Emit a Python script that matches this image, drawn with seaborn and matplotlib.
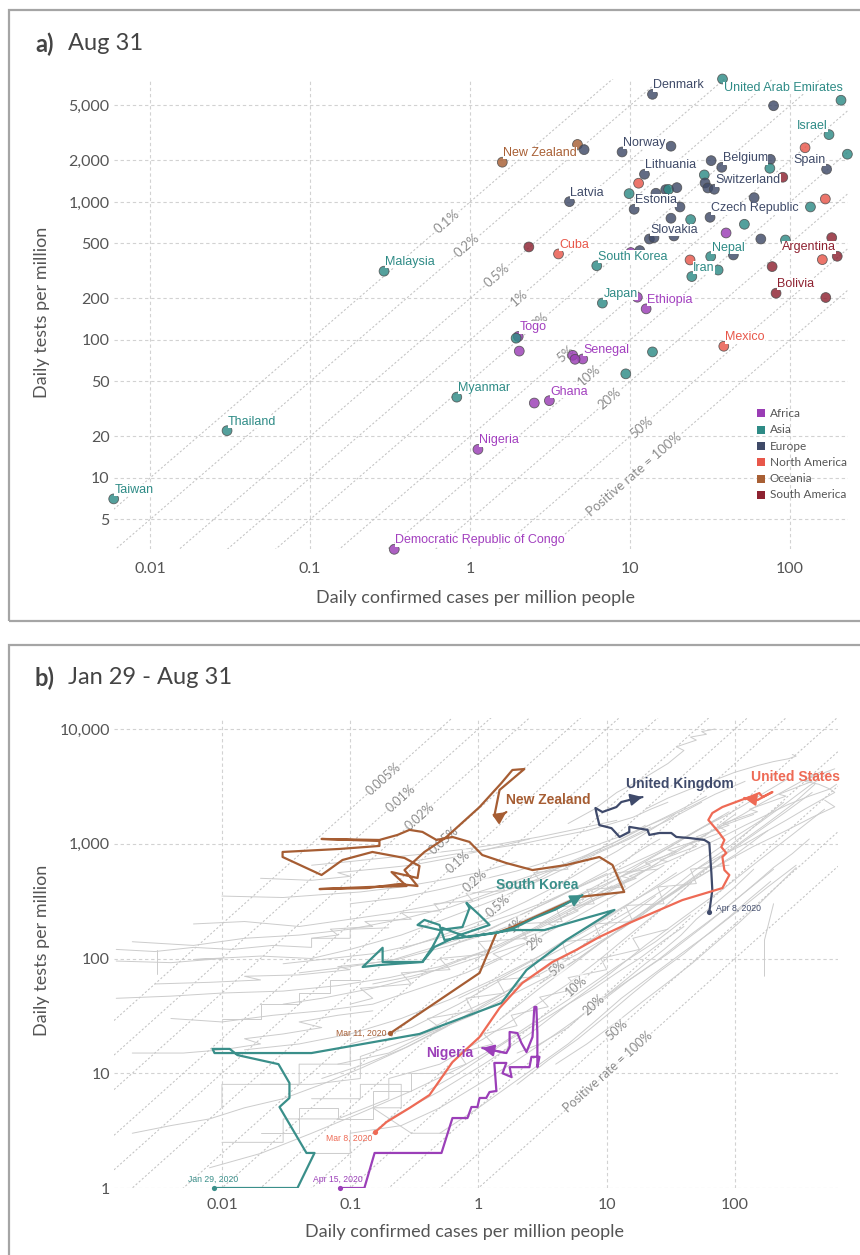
import numpy as np
import pandas as pd
import matplotlib
matplotlib.use("Agg")
import matplotlib.pyplot as plt
from matplotlib.patches import Rectangle
from matplotlib.ticker import FixedLocator, FixedFormatter, NullLocator
import seaborn as sns

sns.set_theme(style="white")
plt.rcParams["font.family"] = ["Lato", "DejaVu Sans"]
LABEL_FONT = ["Liberation Sans", "DejaVu Sans"]

# ------------------------------------------------------------------ colours
continents = ["Africa", "Asia", "Europe", "North America", "Oceania", "South America"]
cont_code = {"AF": "Africa", "AS": "Asia", "EU": "Europe", "NA": "North America",
             "OC": "Oceania", "SA": "South America"}
cont_colors = {"Africa": "#9a3db5", "Asia": "#2e8b86", "Europe": "#3f4a68",
               "North America": "#e8574a", "Oceania": "#a85f34", "South America": "#8e2231"}
label_colors = {"Africa": "#a23fbf", "Asia": "#2e8b86", "Europe": "#3f4a68",
                "North America": "#e8574a", "Oceania": "#a85f34", "South America": "#8e2231"}

# ------------------------------------------------------------------ panel a data (Aug 31)
a_names = ["United Arab Emirates", "Denmark", "", "", "Israel", "", "", "", "", "Norway",
           "", "Lithuania", "", "", "Belgium", "", "", "Spain", "", "",
           "", "", "Switzerland", "Latvia", "", "", "", "", "", "Estonia",
           "", "", "", "", "Czech Republic", "", "", "Slovakia", "", "",
           "", "", "", "", "", "Argentina", "", "Cuba", "", "South Korea",
           "", "", "Nepal", "", "", "Iran", "", "", "Bolivia", "",
           "Japan", "", "Ethiopia", "Malaysia", "New Zealand", "Togo", "", "", "Senegal", "",
           "", "", "Mexico", "", "Myanmar", "Ghana", "", "Nigeria",
           "Democratic Republic of Congo", "Thailand", "Taiwan"]
a_continent = ["AS", "EU", "EU", "AS", "AS", "NA", "AS", "OC", "EU", "EU",
               "EU", "EU", "NA", "EU", "EU", "EU", "AS", "EU", "SA", "AS",
               "EU", "EU", "EU", "EU", "AS", "EU", "EU", "AS", "EU", "EU",
               "EU", "EU", "NA", "AS", "EU", "EU", "AS", "EU", "EU", "EU",
               "AS", "AF", "EU", "AS", "SA", "SA", "NA", "NA", "SA", "AS",
               "AF", "EU", "AS", "EU", "NA", "AS", "AS", "SA", "SA", "SA",
               "AS", "AF", "AF", "AS", "OC", "AF", "AS", "AF", "AF", "AF",
               "AF", "AS", "NA", "AS", "AS", "AF", "AF", "AF",
               "AF", "AS", "AS"]
a_cases = [37.8, 13.8, 78.8, 208, 175, 124, 228, 4.69, 5.16, 8.91,
           18.0, 12.3, 11.3, 32.1, 37.4, 75.3, 74.7, 169, 90, 29.1,
           29.4, 30.6, 33.6, 4.18, 9.86, 14.5, 16.7, 17.4, 19.6, 10.6,
           20.5, 59.6, 166, 134, 31.6, 18.0, 23.9, 13.2, 14.1, 18.8,
           51.8, 39.8, 65.6, 93.5, 182, 197, 159, 3.57, 2.33, 6.19,
           10.1, 11.5, 31.9, 44.2, 23.7, 24.3, 35.5, 77.2, 81.7, 167,
           6.71, 11.1, 12.6, 0.29, 1.59, 2.0, 1.94, 2.03, 5.06, 4.38,
           4.53, 13.8, 38.5, 9.40, 0.826, 3.13, 2.52, 1.12,
           0.336, 0.0303, 0.00593]
a_tests = [7780, 6025, 4980, 5457, 3076, 2471, 2218, 2610, 2393, 2302,
           2535, 1588, 1367, 1992, 1783, 2036, 1754, 1726, 1510, 1570,
           1373, 1263, 1236, 1005, 1149, 1156, 1228, 1232, 1270, 885,
           920, 1074, 1051, 920, 774, 762, 745, 539, 551, 567,
           689, 596, 539, 530, 551, 404, 382, 420, 472, 345,
           430, 444, 402, 413, 380, 288, 321, 340, 218, 203,
           185, 204, 168, 315, 1941, 106, 103, 83, 72.8, 77.4,
           72.4, 81.9, 90, 56.8, 38.5, 36.3, 34.9, 16.1,
           3.04, 22.0, 7.05]

# positive-rate reference lines
rates_a = [0.001, 0.002, 0.005, 0.01, 0.02, 0.05, 0.1, 0.2, 0.5, 1.0]
rate_labels_a = ["0.1%", "0.2%", "0.5%", "1%", "2%", "5%", "10%", "20%", "50%", "Positive rate = 100%"]
rates_b = [0.00005, 0.0001, 0.0002, 0.0005, 0.001, 0.002, 0.005, 0.01, 0.02, 0.05, 0.1, 0.2, 0.5, 1.0]
rate_labels_b = ["0.005%", "0.01%", "0.02%", "0.05%", "0.1%", "0.2%", "0.5%", "1%", "2%", "5%",
                 "10%", "20%", "50%", "Positive rate = 100%"]

# ------------------------------------------------------------------ panel b data (trajectories)
sk_cases = [0.0086, 0.0388, 0.0527, 0.0456, 0.0281, 0.0336, 0.0336, 0.0276, 0.0132, 0.0115,
            0.00845, 0.00875, 0.0499, 0.347, 1.51, 2.37, 4.85, 11.5, 7.33, 3.27,
            1.84, 1.02, 0.543, 0.497, 0.379, 0.335, 0.497, 0.750, 0.851, 0.806,
            1.02, 1.22, 0.711, 0.454, 0.366, 0.179, 0.179, 0.125, 0.169, 0.366,
            0.438, 0.524, 0.806, 1.38, 1.91, 2.73, 3.91, 6.47]
sk_tests = [1, 1, 2.02, 2.02, 5.08, 6.09, 8.22, 12.0, 14.4, 16.3,
            16.3, 15.0, 15.0, 22.0, 40.9, 79.4, 145, 265, 230, 177,
            177, 160, 145, 196, 217, 196, 177, 188, 275, 305,
            239, 196, 160, 126, 93.3, 93.3, 124, 84.3, 87.7, 93.3,
            126, 185, 154, 167, 185, 225, 265, 357]

nz_cases = [0.206, 1.02, 1.38, 1.84, 6.13, 13.7, 11.1, 8.77, 4.85, 2.64,
            1.65, 1.07, 0.851, 0.627, 0.471, 0.366, 0.290, 0.234, 0.169, 0.0598,
            0.169, 0.169, 0.0826, 0.0297, 0.0297, 0.0598, 0.0871, 0.149, 0.265, 0.347,
            0.335, 0.210, 0.275, 0.141, 0.0577, 0.136, 0.242, 0.335, 0.265, 0.379,
            0.497, 0.563, 1.02, 1.51, 1.84, 2.28, 1.46, 1.33, 1.41, 1.65]
nz_tests = [22.4, 74.8, 167, 188, 344, 380, 653, 767, 653, 590,
            679, 798, 1038, 1146, 1079, 1268, 1321, 1194, 1079, 1101,
            1057, 957, 901, 848, 767, 534, 722, 848, 752, 640,
            503, 567, 428, 420, 403, 411, 446, 428, 590, 848,
            1038, 1146, 2089, 3381, 4395, 4479, 2941, 1744, 1675, 1890]

uk_cases = [63.1, 66.6, 65.5, 63.1, 57.7, 44.2, 34.9, 31.9, 25.8, 21.5,
            20.8, 15.0, 15.0, 12.6, 10.9, 8.77, 8.32, 8.17, 9.26, 11.9,
            13.0, 15.0, 19.0]
uk_tests = [254, 395, 556, 1016, 1079, 1122, 1146, 1241, 1241, 1194,
            1321, 1403, 1268, 1146, 1367, 1454, 1852, 2049, 1890, 2089,
            2310, 2406, 2553]

us_cases = [0.157, 0.192, 0.290, 0.415, 0.627, 1.02, 1.46, 2.20, 3.77, 5.81,
            8.77, 15.0, 38.9, 79.8, 90.4, 82.7, 79.8, 85.7, 78.3, 82.7,
            75.5, 69.0, 62.0, 66.6, 79.8, 112, 130, 155, 164, 196, 150, 118]
us_tests = [3.08, 3.76, 4.98, 6.46, 12.5, 20.7, 37.0, 61.2, 93.2, 119,
            154, 204, 323, 411, 534, 590, 767, 830, 937, 1079,
            1241, 1400, 1611, 1852, 2089, 2406, 2553, 2766, 2553, 2824, 2406, 2505]

ng_cases = [0.0826, 0.129, 0.155, 0.415, 0.515, 0.627, 0.821, 0.882, 0.982, 1.02,
            1.15, 1.22, 1.38, 1.33, 1.65, 1.54, 1.81, 1.75, 2.50, 2.59,
            2.99, 2.88, 2.88, 2.83, 2.73, 2.64, 2.37, 2.16, 2.01, 1.75,
            1.75, 1.65, 1.07]
ng_tests = [1, 1, 2.02, 2.02, 2.02, 4.07, 4.07, 5.08, 5.08, 6.09,
            6.09, 6.86, 7.00, 12.3, 12.3, 10.0, 9.27, 11.3, 11.3, 13.9,
            13.9, 11.3, 22.4, 37.8, 37.8, 20.7, 15.3, 18.4, 22.4, 22.9,
            16.9, 15.0, 16.6]

hl_names = ["New Zealand", "South Korea", "United Kingdom", "United States", "Nigeria"]
hl_cases = [nz_cases, sk_cases, uk_cases, us_cases, ng_cases]
hl_tests = [nz_tests, sk_tests, uk_tests, us_tests, ng_tests]
hl_start = ["Mar 11, 2020", "Jan 29, 2020", "Apr 8, 2020", "Mar 8, 2020", "Apr 15, 2020"]
hl_colors = ["#a65d33", "#3a8f8a", "#3f4a6b", "#ee6a55", "#9b3fb8"]

# other countries (grey background trajectories)
gray_cases = [
    [0.0015, 0.004, 0.01, 0.006, 0.02, 0.05, 0.1, 0.25, 0.6, 1.4, 3, 7, 15, 30, 55],
    [0.003, 0.008, 0.02, 0.015, 0.04, 0.1, 0.08, 0.2, 0.5, 1.2, 2.5, 5, 11, 25, 50, 90],
    [0.01, 0.03, 0.03, 0.08, 0.2, 0.2, 0.5, 1.1, 2.4, 5, 9, 16, 28, 45],
    [0.02, 0.05, 0.12, 0.12, 0.3, 0.6, 1.3, 2.8, 6, 13, 25, 50, 100, 180],
    [0.05, 0.1, 0.1, 0.25, 0.5, 1, 2, 4, 8, 15, 30, 60, 110, 200],
    [0.004, 0.01, 0.025, 0.06, 0.15, 0.35, 0.8, 1.7, 3.5, 7, 14, 28],
    [0.08, 0.2, 0.4, 0.9, 1.8, 3.5, 6, 10, 18, 30, 50, 80, 140, 250, 400],
    [0.002, 0.006, 0.015, 0.04, 0.1, 0.25, 0.6, 1.3, 2.8, 6, 12, 22],
    [0.03, 0.06, 0.15, 0.35, 0.7, 1.5, 3, 5.5, 10, 18, 32, 60, 100],
    [0.2, 0.5, 1.1, 2.5, 5, 10, 20, 40, 80, 150, 280, 500],
    [0.01, 0.01, 0.04, 0.04, 0.1, 0.1, 0.3, 0.7, 1.5, 3.2, 7, 15, 30],
    [0.006, 0.015, 0.04, 0.1, 0.22, 0.5, 1, 2, 4, 7, 12, 20, 35, 60],
    [0.5, 1, 1.8, 3, 5, 8, 13, 22, 38, 65, 110, 180, 300],
    [1.5, 3, 5.5, 10, 18, 30, 50, 85, 140, 230, 380, 550],
    [0.1, 0.25, 0.5, 1, 2, 3.5, 6, 10, 17, 28, 45, 70, 120],
    [0.04, 0.1, 0.25, 0.6, 1.3, 2.6, 5, 9, 16, 28, 48, 80],
    [0.008, 0.02, 0.05, 0.12, 0.3, 0.7, 1.5, 3, 6, 12, 24, 45],
    [0.0015, 0.004, 0.01, 0.03, 0.08, 0.2, 0.5, 1.2, 2.6, 5.5, 11],
    [3, 6, 11, 20, 35, 60, 100, 170, 280, 420],
    [0.7, 1.4, 2.6, 4.5, 8, 14, 24, 40, 65, 100, 160, 240],
    [0.015, 0.04, 0.1, 0.25, 0.6, 1.4, 3, 6, 11, 20, 35],
    [0.25, 0.45, 0.8, 1.4, 2.3, 3.6, 5.5, 8, 12, 17, 24, 34],
    [4, 7, 12, 19, 30, 46, 70, 105, 150, 210, 300],
    [0.06, 0.13, 0.28, 0.55, 1, 1.8, 3.2, 5.5, 9, 15, 24],
    [6, 10, 16, 25, 38, 55, 80, 115, 160, 230, 330, 480],
    [30, 50, 80, 120, 180, 260, 380, 550, 450, 350],
    [12, 22, 40, 75, 140, 250, 400, 600, 500],
    [0.3, 0.6, 1.2, 2.2, 4, 7, 11, 16, 22, 30],
    [0.002, 0.004, 0.008, 0.015, 0.03, 0.06, 0.12, 0.25, 0.5, 1, 2],
    [2, 3.5, 6, 10, 16, 25, 40, 60, 90, 130, 190],
    [0.1, 0.15, 0.12, 0.3, 0.25, 0.6, 0.5, 1.2, 1, 2.4, 2, 4.5, 4, 8, 7, 14, 12, 25],
    [0.3, 0.5, 0.4, 0.9, 0.8, 1.6, 1.4, 3, 2.6, 5, 4.5, 9, 8, 16, 14, 28, 25, 50, 45, 90],
    [0.05, 0.08, 0.07, 0.15, 0.13, 0.3, 0.25, 0.5, 0.45, 0.9, 0.8, 1.6, 1.5, 3, 2.7, 5, 4.5],
    [1, 1.5, 1.3, 2.5, 2.2, 4, 3.5, 6, 5.5, 10, 9, 17, 15, 30, 26, 50, 45, 85, 75, 140],
    [0.5, 0.8, 0.7, 1.3, 1.1, 2, 1.8, 3.5, 3, 6, 5, 10, 9, 18, 16, 30],
    [10, 15, 13, 22, 20, 35, 30, 55, 50, 90, 80, 150, 130, 250, 220, 400, 350, 600],
    [5, 8, 12, 20, 30, 40, 35, 50, 45, 60, 55, 70],
    [20, 30, 45, 70, 100, 150, 200, 260, 300, 280],
    [0.0015, 0.003, 0.006, 0.012, 0.025, 0.05, 0.05, 0.1, 0.1, 0.2],
    [0.02, 0.04, 0.04, 0.08, 0.08, 0.15, 0.15, 0.3, 0.3, 0.6],
    [0.05, 0.12, 0.12, 0.25, 0.25, 0.15, 0.3, 0.6],
    [0.002, 0.005, 0.01, 0.02, 0.015, 0.03, 0.06, 0.04, 0.08, 0.15],
    [2, 3, 5, 7, 10, 14, 20, 28, 38, 50, 70, 100, 140],
    [0.8, 1.2, 2, 3, 4, 6, 8, 11, 15, 20],
    [50, 80, 120, 180, 250, 350, 500, 600, 550, 620],
    [0.15, 0.3, 0.6, 1.2, 2, 3.5, 6, 10, 16, 25],
    [3, 5, 8, 13, 20, 32, 50, 80, 120, 180, 260],
    [0.4, 0.7, 1.1, 1.8, 3, 5, 8, 12, 18, 27, 40],
    [0.03, 0.07, 0.15, 0.3, 0.6, 1.1, 2, 3.5, 6, 10],
    [8, 12, 18, 26, 38, 55, 80, 110, 150, 200, 280, 380],
    [0.6, 1, 1.5, 2.3, 3.5, 5, 7, 10, 14, 19, 26],
    [0.01, 0.02, 0.02, 0.04, 0.04, 0.07, 0.07, 0.12],
    [0.0031, 0.0031],
    [170, 170, 200],
    [0.02, 0.05, 0.1, 0.08, 0.15, 0.3, 0.6, 1.2, 2.5],
    [0.01, 0.03, 0.06, 0.12, 0.25, 0.5, 1, 2],
    [0.05, 0.1, 0.2, 0.4, 0.8, 1.5, 3, 6, 12],
]
gray_tests = [
    [95, 92, 100, 98, 105, 100, 120, 160, 230, 330, 480, 750, 1100, 1600, 2300],
    [60, 62, 65, 70, 72, 80, 85, 95, 130, 180, 260, 380, 560, 850, 1300, 1900],
    [2.5, 2.5, 4, 4, 6, 9, 12, 20, 35, 60, 100, 170, 280, 450],
    [8, 8, 9, 14, 20, 30, 45, 70, 110, 180, 300, 500, 800, 1300],
    [2, 2, 3, 3.5, 5, 8, 13, 22, 38, 65, 110, 200, 350, 600],
    [30, 28, 32, 35, 40, 55, 75, 110, 170, 260, 400, 650],
    [12, 15, 22, 32, 48, 70, 100, 150, 230, 350, 520, 780, 1200, 1900, 2800],
    [140, 130, 150, 160, 180, 220, 280, 380, 520, 720, 1000, 1400],
    [40, 45, 55, 70, 95, 130, 190, 270, 380, 550, 800, 1200, 1800],
    [4, 7, 12, 22, 40, 70, 130, 230, 400, 700, 1200, 2000],
    [5, 8, 8, 12, 12, 18, 25, 40, 65, 100, 160, 260, 420],
    [200, 210, 190, 220, 250, 300, 380, 480, 620, 800, 1050, 1400, 1900, 2600],
    [3, 5, 8, 12, 18, 28, 45, 70, 110, 170, 270, 420, 650],
    [30, 55, 90, 150, 240, 380, 600, 900, 1400, 2100, 3200, 4200],
    [300, 340, 400, 480, 580, 700, 850, 1050, 1300, 1650, 2100, 2700, 3500],
    [75, 85, 100, 130, 170, 230, 320, 450, 630, 880, 1250, 1750],
    [1.5, 2, 3, 4.5, 7, 11, 18, 30, 50, 85, 140, 240],
    [45, 47, 50, 52, 58, 68, 85, 120, 180, 280, 430],
    [60, 100, 160, 260, 400, 620, 950, 1450, 2200, 3300],
    [45, 65, 95, 140, 200, 290, 410, 580, 820, 1150, 1600, 2300],
    [16, 18, 22, 30, 44, 68, 105, 160, 240, 370, 560],
    [120, 150, 190, 240, 310, 400, 520, 670, 860, 1100, 1400, 1800],
    [12, 18, 28, 42, 62, 90, 135, 200, 290, 420, 620],
    [9, 12, 17, 25, 37, 55, 80, 115, 165, 240, 350],
    [350, 450, 580, 730, 920, 1150, 1450, 1800, 2250, 2800, 3500, 4300],
    [700, 900, 1150, 1450, 1800, 2200, 2600, 3000, 3300, 3500],
    [180, 280, 430, 650, 950, 1300, 1700, 2100, 2400],
    [700, 800, 900, 1000, 1150, 1300, 1500, 1700, 2000, 2300],
    [3, 3.5, 4, 5, 6, 8, 11, 16, 24, 36, 55],
    [8, 13, 20, 32, 50, 75, 110, 160, 230, 330, 470],
    [40, 45, 55, 60, 75, 80, 100, 110, 140, 150, 200, 210, 280, 300, 400, 420, 560, 600],
    [20, 25, 30, 35, 45, 50, 65, 70, 95, 100, 140, 150, 200, 210, 290, 300, 420, 450, 600, 650],
    [150, 160, 180, 190, 210, 220, 250, 260, 300, 320, 370, 390, 450, 480, 560, 600, 700],
    [80, 100, 110, 140, 150, 190, 200, 260, 270, 360, 380, 500, 520, 700, 720, 950, 1000, 1300, 1400, 1800],
    [10, 12, 15, 18, 22, 26, 32, 38, 46, 55, 68, 80, 100, 120, 150, 180],
    [400, 500, 520, 650, 680, 850, 880, 1100, 1150, 1450, 1500, 1900, 2000, 2600, 2700, 3500, 3600, 4500],
    [1500, 2000, 2800, 3800, 5000, 6500, 7000, 8000, 8500, 9000, 9500, 10000],
    [2000, 2500, 3000, 3600, 4200, 4800, 5200, 5500, 5800, 6000],
    [120, 115, 125, 120, 130, 125, 150, 150, 180, 185],
    [3, 3, 5, 5, 4, 4, 7, 7, 10, 10],
    [6, 6, 8, 8, 5, 5, 3, 3],
    [15, 15, 16, 18, 20, 22, 25, 28, 32, 35],
    [15, 18, 25, 35, 48, 65, 90, 120, 160, 220, 300, 420, 600],
    [300, 350, 420, 500, 600, 720, 860, 1000, 1200, 1450],
    [600, 800, 1000, 1300, 1600, 2000, 2500, 2800, 3000, 3300],
    [60, 70, 85, 110, 150, 200, 270, 370, 500, 680],
    [200, 280, 380, 520, 700, 950, 1300, 1700, 2200, 2900, 3700],
    [7, 10, 14, 20, 28, 40, 55, 75, 100, 140, 190],
    [90, 100, 110, 130, 160, 200, 250, 320, 420, 550],
    [40, 55, 75, 100, 140, 190, 260, 350, 470, 620, 820, 1100],
    [130, 160, 200, 250, 310, 380, 470, 580, 720, 900, 1100],
    [30, 30, 40, 40, 50, 50, 65, 65],
    [74, 118],
    [70, 145, 300],
    [500, 480, 520, 560, 600, 650, 750, 900, 1100],
    [350, 340, 360, 380, 420, 480, 560, 700],
    [650, 700, 760, 820, 900, 1000, 1150, 1350, 1600],
]

# ------------------------------------------------------------------ figure
W, H = 860, 1255
fig = plt.figure(figsize=(W / 100, H / 100), dpi=100)


def fx(px):
    return px / W


def fy(py):
    return 1 - py / H


def style_axis(ax, xlim, ylim, xt, xtl, yt, ytl, xpad, ypad):
    ax.set_xlim(xlim)
    ax.set_ylim(ylim)
    ax.xaxis.set_major_locator(FixedLocator(xt))
    ax.xaxis.set_major_formatter(FixedFormatter(xtl))
    ax.yaxis.set_major_locator(FixedLocator(yt))
    ax.yaxis.set_major_formatter(FixedFormatter(ytl))
    ax.xaxis.set_minor_locator(NullLocator())
    ax.yaxis.set_minor_locator(NullLocator())
    ax.grid(True, which="major", color="#d2d2d2", linestyle=(0, (3, 2.5)), linewidth=0.8)
    ax.set_axisbelow(True)
    for s in ax.spines.values():
        s.set_visible(False)
    ax.tick_params(length=0, labelsize=11.5, labelcolor="#555555")
    ax.tick_params(axis="x", pad=xpad)
    ax.tick_params(axis="y", pad=ypad)
    ax.set_xlabel("")
    ax.set_ylabel("")
    ax.set_facecolor("none")


def draw_rates(ax, rates, labels, label_x, xlim, fs, bbox_alpha):
    xs = np.array(xlim)
    for r in rates:
        ax.plot(xs, xs / r, color="#c2c2c2", lw=0.75, ls=(0, (2, 2)), zorder=1)
    ax.set_xlim(xlim)
    for r, lab, xc in zip(rates, labels, label_x):
        yc = xc / r
        p1 = ax.transData.transform((xc, yc))
        p2 = ax.transData.transform((xc * 10, yc * 10))
        ang = np.degrees(np.arctan2(p2[1] - p1[1], p2[0] - p1[0]))
        ax.text(xc, yc, lab, rotation=ang, rotation_mode="anchor", ha="center", va="center",
                fontsize=fs, color="#8c8c8c", zorder=2,
                bbox=dict(boxstyle="square,pad=0.05", fc="white", ec="none", alpha=bbox_alpha))


# ------------------------------------------------------------------ panel a
xlim_a = (0.00593, 230)
ylim_a = (3.04, 7780)
ax1 = fig.add_axes([fx(113.7), fy(549.3), fx(848) - fx(113.7), fy(79) - fy(549.3)])
ax1.set_xscale("log")
ax1.set_yscale("log")

dfa = pd.DataFrame({"name": a_names,
                    "continent": [cont_code[c] for c in a_continent],
                    "cases": a_cases, "tests": a_tests})
sns.scatterplot(data=dfa, x="cases", y="tests", hue="continent", palette=cont_colors,
                hue_order=continents, s=50, alpha=0.82, edgecolor="#4a4a4a", linewidth=0.6,
                legend=False, ax=ax1, zorder=3, clip_on=False)

style_axis(ax1, xlim_a, ylim_a, [0.01, 0.1, 1, 10, 100], ["0.01", "0.1", "1", "10", "100"],
           [5, 10, 20, 50, 100, 200, 500, 1000, 2000, 5000],
           ["5", "10", "20", "50", "100", "200", "500", "1,000", "2,000", "5,000"], 9, 3)
label_pos_a = [0.72, 0.96, 1.47, 2.02, 2.74, 3.98, 5.54, 7.5, 11.7, 10.6]
draw_rates(ax1, rates_a, rate_labels_a, label_pos_a, xlim_a, 9.5, 1.0)
ax1.set_ylim(ylim_a)

right_labels = {"Israel", "Spain", "Argentina"}
for _, row in dfa.iterrows():
    if not row["name"]:
        continue
    if row["name"] == "United Arab Emirates":
        off, ha = (1, -9), "left"
    elif row["name"] in right_labels:
        off, ha = (-1, 9), "right"
    else:
        off, ha = (1, 9), "left"
    ax1.annotate(row["name"], (row["cases"], row["tests"]), xytext=off,
                 textcoords="offset pixels", ha=ha, va="center", fontsize=9,
                 family=LABEL_FONT, color=label_colors[row["continent"]], zorder=5,
                 bbox=dict(boxstyle="square,pad=0.02", fc="white", ec="none"))

# legend
leg_y = [413.3, 429.7, 446, 462.3, 478.7, 495]
for cont, yy in zip(continents, leg_y):
    fig.add_artist(Rectangle((fx(757), fy(yy + 4)), 8 / W, 8 / H, transform=fig.transFigure,
                             fc=cont_colors[cont], ec="none"))
    fig.text(fx(770), fy(yy), cont, fontsize=8.5, color="#555555", va="center", ha="left")

# ------------------------------------------------------------------ panel b
xlim_b = (0.00144, 636)
ylim_b = (1, 12470)
ax2 = fig.add_axes([fx(114), fy(1188), fx(838) - fx(114), fy(718) - fy(1188)])
ax2.set_xscale("log")
ax2.set_yscale("log")

g_rows = []
for i, (gc, gt) in enumerate(zip(gray_cases, gray_tests)):
    for j, (c, t) in enumerate(zip(gc, gt)):
        g_rows.append((i, j, c, t))
gdf = pd.DataFrame(g_rows, columns=["country", "step", "cases", "tests"])
sns.lineplot(data=gdf, x="cases", y="tests", units="country", estimator=None, sort=False,
             color="#cccccc", lw=0.7, ax=ax2, zorder=1.5)

for name, cc, tt, col in zip(hl_names, hl_cases, hl_tests, hl_colors):
    sns.lineplot(x=cc, y=tt, sort=False, estimator=None, color=col, lw=1.6, ax=ax2, zorder=3)

style_axis(ax2, xlim_b, ylim_b, [0.01, 0.1, 1, 10, 100], ["0.01", "0.1", "1", "10", "100"],
           [1, 10, 100, 1000, 10000], ["1", "10", "100", "1,000", "10,000"], 7, 3)
label_pos_b = [0.182, 0.247, 0.347, 0.534, 0.699, 0.948, 1.43, 1.98, 2.78, 4.13, 5.80, 7.88, 11.9, 10.3]
draw_rates(ax2, rates_b, rate_labels_b, label_pos_b, xlim_b, 9, 0.6)
ax2.set_ylim(ylim_b)

start_offsets = {"New Zealand": ((-4, 0), "right"), "South Korea": ((0, 9), "center"),
                 "United Kingdom": ((7, 4), "left"), "United States": ((-3, -6), "right"),
                 "Nigeria": ((-2, 9), "center")}
name_offsets = {"New Zealand": ((0, 12), "left"), "South Korea": ((-4, 10), "right"),
                "United Kingdom": ((-16, 13), "left"), "United States": ((7, 21), "left"),
                "Nigeria": ((-9, -5), "right")}
for name, cc, tt, col, sd in zip(hl_names, hl_cases, hl_tests, hl_colors, hl_start):
    ax2.scatter([cc[0]], [tt[0]], s=14, color=col, zorder=4, linewidths=0, clip_on=False)
    off, ha = start_offsets[name]
    ax2.annotate(sd, (cc[0], tt[0]), xytext=off, textcoords="offset pixels", ha=ha, va="center",
                 fontsize=6.2, family=LABEL_FONT, color=col, zorder=5)
    ax2.annotate("", xy=(cc[-1], tt[-1]), xytext=(cc[-2], tt[-2]),
                 arrowprops=dict(arrowstyle="-|>,head_length=0.6,head_width=0.3", color=col,
                                 lw=1.4, shrinkA=0, shrinkB=0), zorder=4)
    off, ha = name_offsets[name]
    ax2.annotate(name, (cc[-1], tt[-1]), xytext=off, textcoords="offset pixels", ha=ha, va="center",
                 fontsize=10, weight="bold", family=LABEL_FONT, color=col, zorder=5)

# ------------------------------------------------------------------ titles, axis labels, frames
for y_title, tag, txt in [(44, "a)", "Aug 31"), (678, "b)", "Jan 29 - Aug 31")]:
    fig.text(fx(35), fy(y_title), tag, fontsize=17, weight="bold", color="#444444", va="center")
    fig.text(fx(68), fy(y_title), txt, fontsize=17, color="#444444", va="center")

fig.text(fx(475), fy(598), "Daily confirmed cases per million people", ha="center", va="center",
         fontsize=13, color="#555555")
fig.text(fx(42), fy(312), "Daily tests per million", rotation=90, ha="center", va="center",
         fontsize=13, color="#555555")
fig.text(fx(465), fy(1232), "Daily confirmed cases per million people", ha="center", va="center",
         fontsize=13, color="#555555")
fig.text(fx(42), fy(950), "Daily tests per million", rotation=90, ha="center", va="center",
         fontsize=13, color="#555555")

fig.add_artist(Rectangle((fx(9), fy(621)), fx(880) - fx(9), fy(10) - fy(621), transform=fig.transFigure,
                         fill=False, ec="#a5a5a5", lw=1.6))
fig.add_artist(Rectangle((fx(9), fy(1300)), fx(880) - fx(9), fy(645) - fy(1300), transform=fig.transFigure,
                         fill=False, ec="#a5a5a5", lw=1.6))

fig.savefig("out.png", dpi=100)
